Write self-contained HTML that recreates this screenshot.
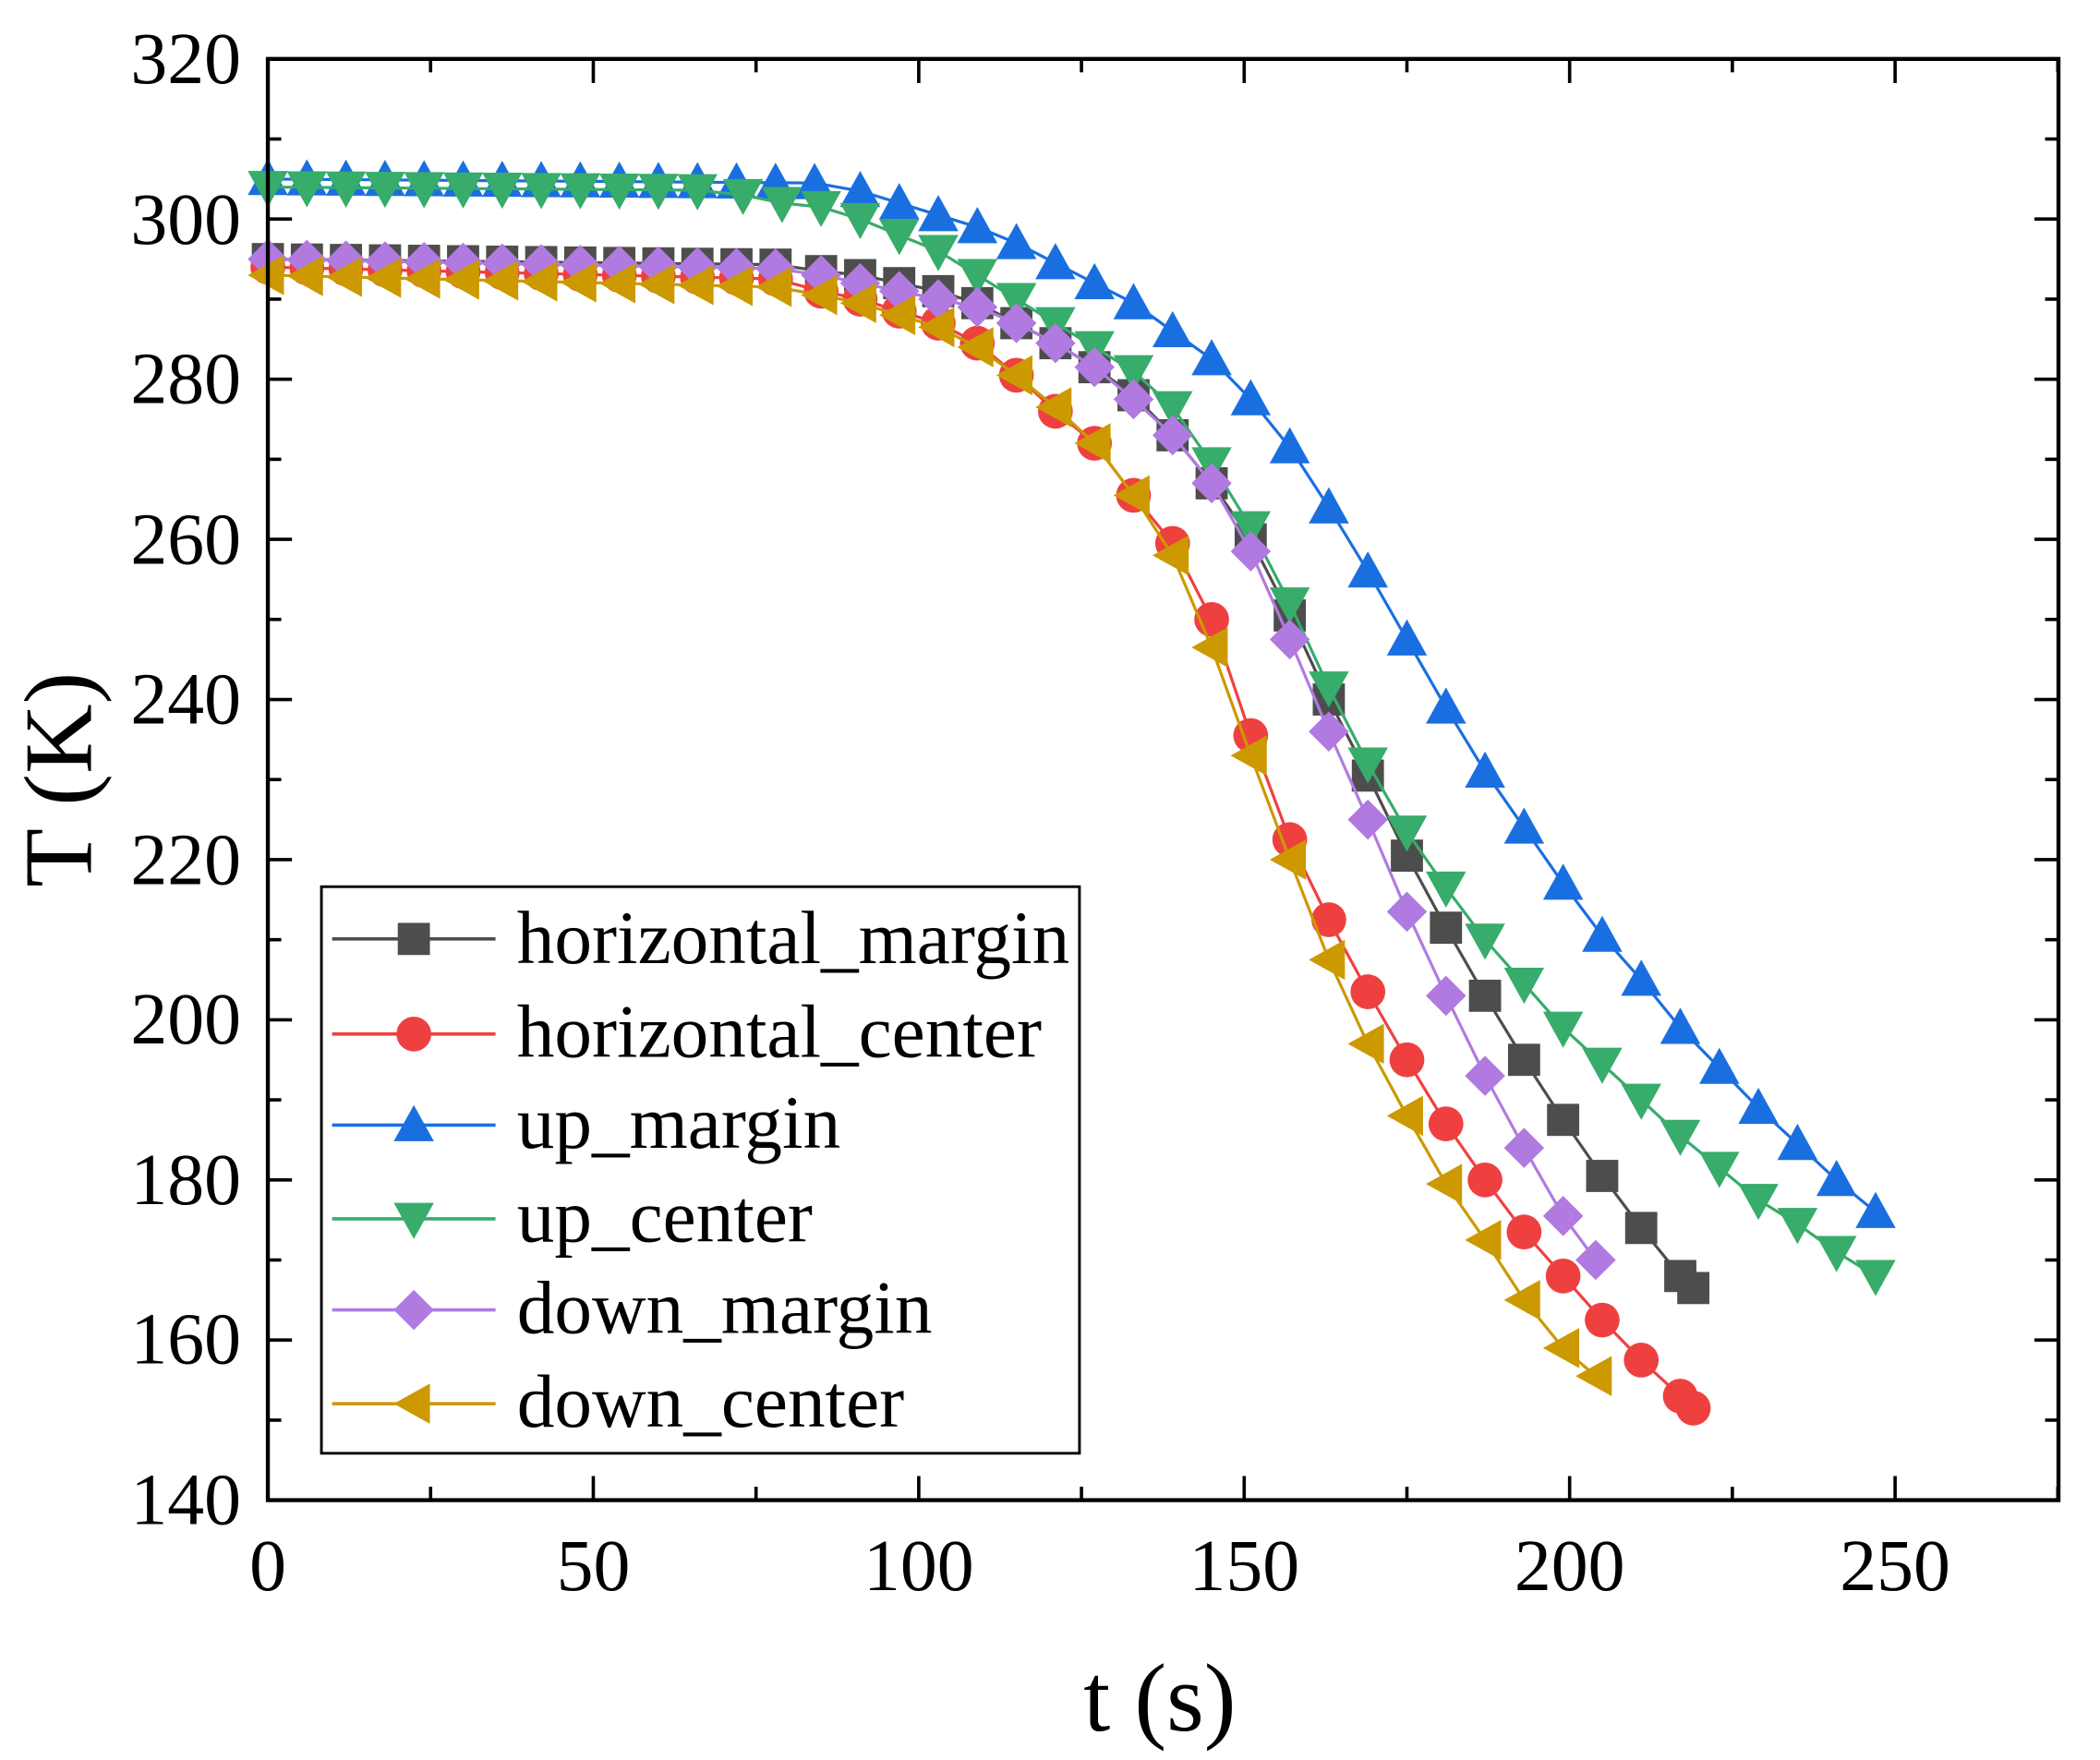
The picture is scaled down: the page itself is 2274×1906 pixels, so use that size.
<!DOCTYPE html>
<html><head><meta charset="utf-8"><style>
html,body{margin:0;padding:0;background:#fff;}
svg{display:block;}
text{font-family:"Liberation Serif",serif;fill:#000;}
</style></head><body>
<svg id="s" width="2274" height="1906" viewBox="0 0 1568 1314" preserveAspectRatio="none" xmlns="http://www.w3.org/2000/svg">
<g id="plot"></g>
<rect x="200" y="44" width="1337" height="1076" fill="none" stroke="#000" stroke-width="3"/>
<g id="ticks" stroke="#000" stroke-width="2.5"></g>
<g font-size="55" text-anchor="end">
<text x="180" y="62">320</text><text x="180" y="182">300</text><text x="180" y="301">280</text><text x="180" y="421">260</text><text x="180" y="540">240</text><text x="180" y="660">220</text><text x="180" y="779">200</text><text x="180" y="899">180</text><text x="180" y="1018">160</text><text x="180" y="1138">140</text>
</g>
<g font-size="55" text-anchor="middle">
<text x="200" y="1187">0</text><text x="443" y="1187">50</text><text x="686" y="1187">100</text><text x="929" y="1187">150</text><text x="1172" y="1187">200</text><text x="1415" y="1187">250</text>
</g>
<text x="866" y="1292" font-size="72" text-anchor="middle">t (s)</text>
<text transform="translate(68,582) rotate(-90)" font-size="72" text-anchor="middle">T (K)</text>
<rect x="240" y="662" width="566" height="423" fill="#fff" stroke="#000" stroke-width="2"/>
<g id="leg"></g>
<g font-size="56">
<text x="386" y="719">horizontal_margin</text>
<text x="386" y="789">horizontal_center</text>
<text x="386" y="857">up_margin</text>
<text x="386" y="927">up_center</text>
<text x="386" y="995">down_margin</text>
<text x="386" y="1065">down_center</text>
</g>
</svg>
<script>
const X=t=>200+t*4.86, Y=v=>44+(320-v)*5.978;
const NS="http://www.w3.org/2000/svg";
function el(p,n,a){const e=document.createElementNS(NS,n);for(const k in a)e.setAttribute(k,a[k]);p.appendChild(e);return e;}
function flat(t0,t1,v0,v1){const r=[];for(let t=t0;t<=t1;t+=6){r.push([t,v0+(v1-v0)*(t-t0)/Math.max(1,t1-t0)]);}return r;}
const S=[
{c:"#4d4d4d",m:"sq",d:flat(0,79,295,294.3).concat([[85,293.5],[91,293],[97,292],[103,291],[109,289.5],[115,287],[121,284.5],[127,281.5],[133,278],[139,273],[145,267],[151,260],[157,250.5],[163,240],[169,230.5],[175,220.5],[181,211.5],[187,203],[193,195],[199,187.5],[205,180.5],[211,174],[217,168],[219,166.5]])},
{c:"#ef4040",m:"ci",d:flat(0,79,294,292.5).concat([[85,291],[91,290],[97,288.5],[103,287],[109,284.5],[115,280.5],[121,276],[127,272],[133,265.5],[139,259.5],[145,250],[151,235.5],[157,222.5],[163,212.5],[169,203.5],[175,195],[181,187],[187,180],[193,173.5],[199,168],[205,162.5],[211,157.5],[217,153],[219,151.5]])},
{c:"#1a6fe0",m:"up",d:flat(0,85,305,304.5).concat([[91,303.5],[97,302],[103,300.5],[109,299],[115,297],[121,294.5],[127,292],[133,289.5],[139,286],[145,282.5],[151,277.5],[157,271.5],[163,264],[169,256],[175,247.5],[181,239],[187,231],[193,224],[199,217],[205,210.5],[211,205],[217,199],[223,194],[229,189],[235,184.5],[241,180],[247,176]])},
{c:"#37ac6b",m:"dn",d:flat(0,67,304,303.6).concat([[73,303],[79,302],[85,301.5],[91,300],[97,298],[103,296],[109,293],[115,290],[121,287],[127,284],[133,281],[139,276.5],[145,269.5],[151,261.5],[157,252],[163,241.5],[169,232],[175,223.5],[181,216.5],[187,210],[193,204.5],[199,199],[205,194.5],[211,190],[217,185.5],[223,181.5],[229,177.5],[235,174.5],[241,171],[247,168]])},
{c:"#b07ae0",m:"di",d:flat(0,79,295,293.8).concat([[85,293],[91,292],[97,291],[103,290],[109,289],[115,287],[121,284.5],[127,281.5],[133,277.5],[139,273],[145,267],[151,258.5],[157,247.5],[163,236],[169,225],[175,213.5],[181,203],[187,193],[193,184],[199,175.5],[204,170]])},
{c:"#cc9900",m:"lf",d:flat(0,79,293,291.5).concat([[85,290.5],[91,289.5],[97,288],[103,286.5],[109,284],[115,280.5],[121,276.5],[127,272],[133,265.5],[139,258],[145,246.5],[151,233],[157,220],[163,207.5],[169,197],[175,188],[181,179.5],[187,172.5],[193,165],[199,159],[204,155.5]])}
];
function mk(g,type,x,y,c){const r=12;
 if(type=="sq")el(g,"rect",{x:x-r,y:y-r,width:2*r,height:2*r,fill:c});
 else if(type=="ci")el(g,"circle",{cx:x,cy:y,r:r+1,fill:c});
 else if(type=="up")el(g,"polygon",{points:`${x},${y-15} ${x+15},${y+12} ${x-15},${y+12}`,fill:c});
 else if(type=="dn")el(g,"polygon",{points:`${x},${y+15} ${x+15},${y-12} ${x-15},${y-12}`,fill:c});
 else if(type=="di")el(g,"polygon",{points:`${x},${y-15} ${x+15},${y} ${x},${y+15} ${x-15},${y}`,fill:c});
 else el(g,"polygon",{points:`${x-15},${y} ${x+12},${y-15} ${x+12},${y+15}`,fill:c});
}
const P=document.getElementById("plot");
S.forEach(s=>{const g=el(P,"g",{});
 el(g,"polyline",{points:s.d.map(p=>X(p[0])+","+Y(p[1])).join(" "),fill:"none",stroke:s.c,"stroke-width":2.2});
 s.d.forEach(p=>mk(g,s.m,X(p[0]),Y(p[1]),s.c));});
const L=document.getElementById("leg");const ly=[701,772,840,910,978,1048];
S.forEach((s,i)=>{el(L,"line",{x1:248,x2:370,y1:ly[i],y2:ly[i],stroke:s.c,"stroke-width":2.5});mk(L,s.m,309,ly[i],s.c);});
const T=document.getElementById("ticks");
for(let t=0;t<=275;t+=25){const x=X(t),len=t%50==0?18:10;
 el(T,"line",{x1:x,x2:x,y1:1120,y2:1120-len});el(T,"line",{x1:x,x2:x,y1:44,y2:44+len});}
for(let v=140;v<=320;v+=10){const y=Y(v),len=v%20==0?18:10;
 el(T,"line",{x1:200,x2:200+len,y1:y,y2:y});el(T,"line",{x1:1537,x2:1537-len,y1:y,y2:y});}
</script>
</body></html>
